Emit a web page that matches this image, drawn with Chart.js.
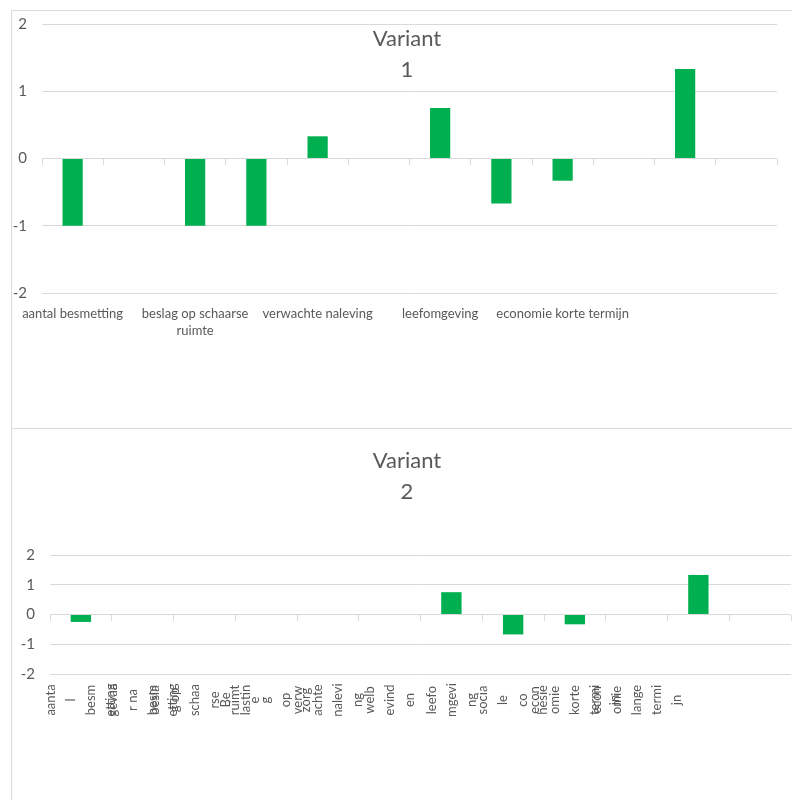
<!DOCTYPE html>
<html lang="nl">
<head>
  <meta charset="UTF-8">
  <title>Variant 1 en 2</title>
  <script src="https://cdn.jsdelivr.net/npm/chart.js"></script>
  <style>
    * { margin: 0; padding: 0; box-sizing: border-box; }
    body { width: 792px; height: 800px; background: #fff; position: relative; overflow: hidden; font-family: Lato, sans-serif; }
    .panel { position: absolute; left: 11px; width: 800px; border-left: 1px solid #d9d9d9; border-top: 1px solid #d9d9d9; }
    .p1 { top: 10px; height: 418px; }
    .p2 { top: 428px; height: 400px; }
    .box { position: absolute; left: 0; width: 792px; }
    .title { position: absolute; left: 307px; width: 200px; text-align: center; font-size: 22px; line-height: 31px; color: #595959; }
  </style>
</head>
<body>
  <div class="panel p1"></div>
  <div class="panel p2"></div>
  <div class="box" style="top:0;height:428px"><canvas id="v1"></canvas></div>
  <div class="box" style="top:428px;height:372px"><canvas id="v2"></canvas></div>
  <div class="title" style="top:22px">Variant<br>1</div>
  <div class="title" style="top:444px">Variant<br>2</div>

  <script>
    // categories (odd ones are hidden by the label skipping in the top chart)
    const categories = [
      'aantal besmetting', 'gevaar na besmetting', 'beslag op schaarse ruimte', 'Belasting op zorg',
      'verwachte naleving', 'welbevinden', 'leefomgeving', 'sociale cohesie',
      'economie korte termijn', 'economie lange termijn', '', ''
    ];
    // tick labels as shown in variant 1
    const topLabels = [
      'aantal besmetting', '', ['beslag op schaarse', 'ruimte'], '',
      'verwachte naleving', '', 'leefomgeving', '',
      'economie korte termijn', '', '', ''
    ];
    // tick labels as shown (wrapped + rotated) in variant 2
    const bottomLabels = [
      ['aanta', 'l', 'besm', 'etting'],
      ['gevaa', 'r na', 'besm', 'etting'],
      ['besla', 'g op', 'schaa', 'rse', 'ruimt', 'e'],
      ['Be', 'lastin', 'g', 'op', 'zorg'],
      ['verw', 'achte', 'nalevi', 'ng'],
      ['welb', 'evind', 'en'],
      ['leefo', 'mgevi', 'ng'],
      ['socia', 'le', 'co', 'hesie'],
      ['econ', 'omie', 'korte', 'termi', 'jn'],
      ['econ', 'omie', 'lange', 'termi', 'jn'],
      [],
      []
    ];
    const variant1 = [-1, 0, -1, -1, 0.33, 0, 0.75, -0.67, -0.33, 0, 1.33, 0];
    const variant2 = [-0.25, 0, 0, 0, 0, 0, 0.75, -0.67, -0.33, 0, 1.33, 0];
    const yTicks = [-2, -1, 0, 1, 2];

    const grey = '#d9d9d9';
    const textColor = '#595959';
    const green = '#00b050';

    // draws the wrapped variant 2 labels, centred under each category
    const wrappedLabels = {
      id: 'wrappedLabels',
      afterDraw(chart) {
        if (!chart.options.plugins.wrappedLabels.show) return;
        const xs = chart.scales.x;
        const ctx = chart.ctx;
        const mid = chart.chartArea.bottom + 26;
        ctx.save();
        ctx.font = '13px Lato';
        ctx.fillStyle = textColor;
        ctx.textAlign = 'center';
        ctx.textBaseline = 'middle';
        bottomLabels.forEach((lines, i) => {
          const cx = xs.getPixelForValue(i);
          lines.forEach((t, j) => {
            ctx.save();
            ctx.translate(cx + (j - (lines.length - 1) / 2) * 20, mid);
            ctx.rotate(-Math.PI / 2);
            ctx.fillText(t, 0, 0);
            ctx.restore();
          });
        });
        ctx.restore();
      }
    };

    function makeChart(id, values, cfg) {
      return new Chart(document.getElementById(id), {
        type: 'bar',
        data: {
          labels: categories,
          datasets: [{
            data: values,
            xAxisID: 'x',
            backgroundColor: green,
            categoryPercentage: 1,
            barPercentage: 0.33
          }]
        },
        options: {
          responsive: true,
          maintainAspectRatio: false,
          animation: false,
          layout: { padding: cfg.padding },
          plugins: {
            legend: { display: false },
            tooltip: { enabled: false },
            wrappedLabels: { show: cfg.wrapped }
          },
          scales: {
            x: {
              grid: { display: false, drawTicks: false },
              border: { display: false },
              ticks: {
                display: !cfg.wrapped,
                autoSkip: false,
                maxRotation: 0,
                padding: 12,
                color: textColor,
                font: { family: 'Lato', size: 13, lineHeight: 1.3 },
                callback: (v, i) => topLabels[i]
              },
              afterFit: s => { s.height = cfg.xHeight; }
            },
            zero: {
              axis: 'x',
              type: 'category',
              position: { y: 0 },
              offset: true,
              ticks: { display: false },
              grid: { drawOnChartArea: false, drawTicks: true, tickLength: 6, color: grey, offset: true },
              border: { display: false }
            },
            y: {
              min: -2,
              max: 2,
              afterBuildTicks: s => { s.ticks = yTicks.map(v => ({ value: v })); },
              ticks: { color: textColor, padding: 15, font: { family: 'Lato', size: 15 } },
              grid: { color: grey, drawTicks: false },
              border: { display: false },
              afterFit: s => { s.width = cfg.yWidth; }
            }
          }
        },
        plugins: [wrappedLabels]
      });
    }

    makeChart('v1', variant1, { padding: { top: 19, right: 15, bottom: 85, left: 0 }, xHeight: 50, yWidth: 42, wrapped: false });
    makeChart('v2', variant2, { padding: { top: 127, right: 1, bottom: 126, left: 0 }, xHeight: 0, yWidth: 50, wrapped: true });
  </script>
</body>
</html>
